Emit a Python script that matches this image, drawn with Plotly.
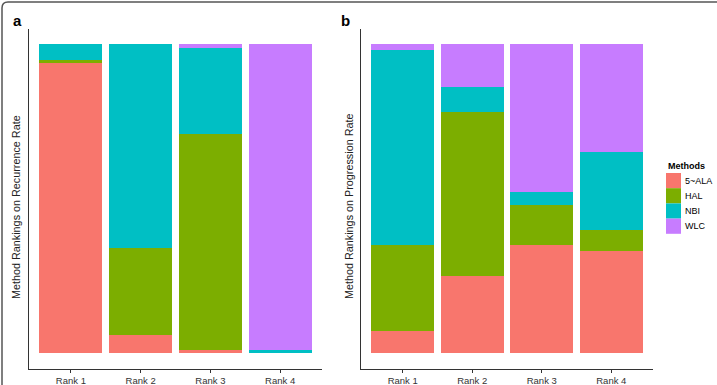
import plotly.graph_objects as go

W, H = 717, 385

ranks = ["Rank 1", "Rank 2", "Rank 3", "Rank 4"]
methods = ["5~ALA", "HAL", "NBI", "WLC"]
colors = ["#F8766D", "#7CAE00", "#00BFC4", "#C77CFF"]

# Panel a: recurrence rate rankings (share of each method at each rank)
rec_5ala = [0.94, 0.06, 0.01, 0.0]
rec_hal = [0.009, 0.28, 0.70, 0.0]
rec_nbi = [0.051, 0.66, 0.277, 0.01]
rec_wlc = [0.0, 0.0, 0.013, 0.99]

# Panel b: progression rate rankings
prog_5ala = [0.07, 0.25, 0.35, 0.33]
prog_hal = [0.28, 0.53, 0.13, 0.068]
prog_nbi = [0.63, 0.08, 0.04, 0.252]
prog_wlc = [0.02, 0.14, 0.48, 0.35]

rec = [rec_5ala, rec_hal, rec_nbi, rec_wlc]
prog = [prog_5ala, prog_hal, prog_nbi, prog_wlc]


def px(x):
    return x / W


def py(y):
    return 1 - y / H


fig = go.Figure()
for m, c, vals in zip(methods, colors, rec):
    fig.add_trace(go.Bar(x=ranks, y=vals, name=m, marker=dict(color=c, line=dict(width=0)),
                         xaxis="x", yaxis="y", showlegend=False))
for m, c, vals in zip(methods, colors, prog):
    fig.add_trace(go.Bar(x=ranks, y=vals, name=m, marker=dict(color=c, line=dict(width=0)),
                         xaxis="x2", yaxis="y2", showlegend=False))

font = "Liberation Sans, Arial, sans-serif"
ydom = [py(368.5), py(28.5)]

xcommon = dict(type="category", range=[-0.6, 3.6], showgrid=False, zeroline=False,
               showline=True, linecolor="#333333", linewidth=1,
               ticks="outside", ticklen=3, tickwidth=1, tickcolor="#333333",
               tickfont=dict(family=font, size=9.5, color="#333333"), fixedrange=True)
ycommon = dict(range=[-0.05, 1.05], showgrid=False, zeroline=False, showticklabels=False,
               showline=True, linecolor="#333333", linewidth=1, ticks="", domain=ydom,
               fixedrange=True)

fig.update_layout(
    width=W, height=H,
    margin=dict(l=0, r=0, t=0, b=0),
    paper_bgcolor="white", plot_bgcolor="white",
    barmode="stack", bargap=0.1,
    xaxis=dict(domain=[px(29), px(322)], anchor="y", **xcommon),
    yaxis=dict(anchor="x", **ycommon),
    xaxis2=dict(domain=[px(361), px(653)], anchor="y2", **xcommon),
    yaxis2=dict(anchor="x2", **ycommon),
)

ann = []
ann.append(dict(text="<b>a</b>", x=px(17), y=py(20), xref="paper", yref="paper",
                showarrow=False, font=dict(family=font, size=15, color="black"),
                xanchor="center", yanchor="middle"))
ann.append(dict(text="<b>b</b>", x=px(345), y=py(20), xref="paper", yref="paper",
                showarrow=False, font=dict(family=font, size=15, color="black"),
                xanchor="center", yanchor="middle"))
ann.append(dict(text="Method Rankings on Recurrence Rate", x=px(16), y=py(207),
                xref="paper", yref="paper", showarrow=False, textangle=-90,
                font=dict(family=font, size=10.8, color="#222222"),
                xanchor="center", yanchor="middle"))
ann.append(dict(text="Method Rankings on Progression Rate", x=px(349), y=py(207),
                xref="paper", yref="paper", showarrow=False, textangle=-90,
                font=dict(family=font, size=10.8, color="#222222"),
                xanchor="center", yanchor="middle"))

# Manual legend (ggplot style)
ann.append(dict(text="<b>Methods</b>", x=px(666), y=py(166), xref="paper", yref="paper",
                showarrow=False, font=dict(family=font, size=9, color="black"),
                xanchor="left", yanchor="middle"))
shapes = []
sw_top = 173
sw_h = 15.2
for i, (m, c) in enumerate(zip(methods, colors)):
    y0 = sw_top + i * sw_h
    shapes.append(dict(type="rect", xref="paper", yref="paper",
                       x0=px(666), x1=px(681), y0=py(y0), y1=py(y0 + sw_h),
                       fillcolor=c, line=dict(width=0)))
    ann.append(dict(text=m, x=px(683), y=py(y0 + sw_h / 2), xref="paper", yref="paper",
                    showarrow=False, font=dict(family=font, size=9, color="black"),
                    xanchor="left", yanchor="middle"))

# Outer rounded frame (top-left corner visible)
r = 6
x0, y0 = 2, 2
path = (f"M {px(x0)},{py(H + 10)} L {px(x0)},{py(y0 + r)} "
        f"Q {px(x0)},{py(y0)} {px(x0 + r)},{py(y0)} L {px(W + 10)},{py(y0)}")
shapes.append(dict(type="path", xref="paper", yref="paper", path=path,
                   line=dict(color="#555555", width=1.5)))

fig.update_layout(annotations=ann, shapes=shapes)

fig.write_html("out.html")
